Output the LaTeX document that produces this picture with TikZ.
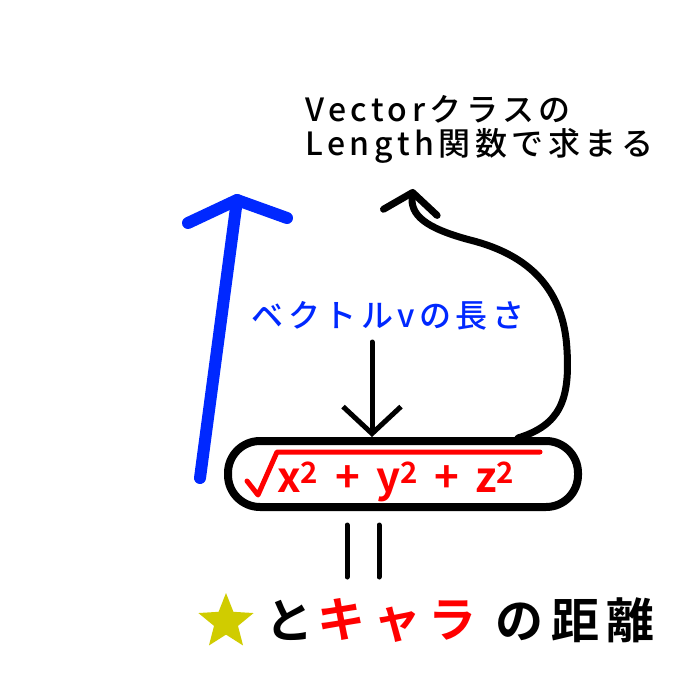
\documentclass[tikz,border=0pt]{standalone}
\usepackage{fontspec}
\setmainfont{Noto Sans CJK JP}
\newfontfamily\jpfont[LetterSpace=14]{Noto Sans CJK JP Medium}
\newfontfamily\jpbold[LetterSpace=16]{Noto Sans CJK JP Bold}
\usetikzlibrary{arrows.meta,positioning,shapes.geometric}
\definecolor{penblue}{RGB}{0,40,255}
\definecolor{penred}{RGB}{255,0,0}
\definecolor{staryellow}{RGB}{208,204,0}

\begin{document}
\begin{tikzpicture}[x=1pt,y=-1pt,line cap=round,line join=round,
  txt/.style={inner sep=0pt,font=\jpfont\fontsize{32}{34}\selectfont},
  big/.style={inner sep=0pt,font=\jpbold\fontsize{48}{50}\selectfont},
  pen/.style={line width=7pt}]
\useasboundingbox (0,0) rectangle (700,700);
% labels
\node[txt,align=left,anchor=west] (lenfunc) at (305,129) {Vectorクラスの\\Length関数で求まる};
\node[txt,text=penblue] (vlen) at (388,316) {ベクトルvの長さ};
% the length, circled
\node[draw,line width=8pt,rounded corners=32pt,minimum width=350pt,minimum height=66pt] (norm) at (403,474) {};
\node[inner sep=0pt,text=penred,font=\jpbold\fontsize{42}{42}\selectfont] (expr) at (396,482)
  {x\textsuperscript{2} + y\textsuperscript{2} + z\textsuperscript{2}};
\draw[penred,line width=5pt] (247,481) -- (258,495) -- (277,452) -- (540,452);
% vector v
\draw[penblue,line width=12pt] (200,478) -- (237,200);
\draw[penblue,line width=12pt] (188,223) -- (237,200) -- (287,218);
% arrows
\coordinate (vtail) at (372,342);
\draw[line width=5pt,-{Straight Barb[length=27pt,width=58pt]}] (vtail) -- (vtail |- norm.north);
\coordinate (cfoot) at (518,438);
\coordinate (ctip) at (413,189);
\draw[pen,-{Straight Barb[length=20pt,width=54pt,round]}] (cfoot) .. controls (560,425) and (570,400) .. (567,350)
  .. controls (564,290) and (530,255) .. (470,240) .. controls (425,228) and (410,215) .. (ctip);
% equals
\draw[line width=5pt] (347,525) -- (347,577);
\draw[line width=5pt] (379,525) -- (379,577);
% bottom line
\node[star,star points=5,star point ratio=2.3,fill=staryellow,minimum size=58pt,inner sep=0pt] (star) at (226,622) {};
\node[big,anchor=west] (to) at (265,620) {と};
\node[big,text=penred,right=4pt of to] (chara) {キャラ};
\node[big,right=18pt of chara] (dist) {の距離};
\end{tikzpicture}
\end{document}
